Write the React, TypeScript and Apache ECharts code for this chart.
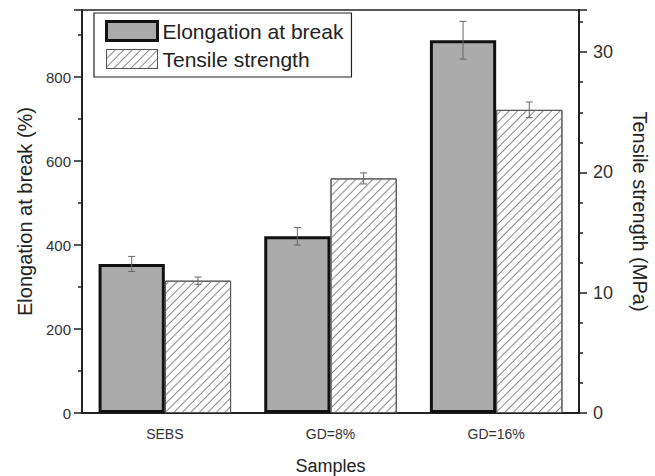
import React, { useEffect, useRef } from "react";
import * as echarts from "echarts";

const categories = ["SEBS", "GD=8%", "GD=16%"];
const elongation = [355, 421, 888];
const elongationErr = [18, 21, 45];
const tensile = [11.0, 19.5, 25.2];
const tensileErr = [0.3, 0.46, 0.65];
const leftTicks = [0, 200, 400, 600, 800];
const rightTicks = [0, 10, 20, 30];

const FONT = "'Liberation Sans', Arial, sans-serif";
const TXT = "#222";

function errorRenderer(offset: number) {
  return (params: any, api: any) => {
    const idx = api.value(0);
    const lo = api.value(1);
    const hi = api.value(2);
    const band = api.size([1, 0])[0];
    const pLo = api.coord([idx, lo]);
    const pHi = api.coord([idx, hi]);
    const x = pLo[0] + offset * band;
    const cap = 3.5;
    const style = { stroke: "#666", lineWidth: 1 };
    return {
      type: "group",
      children: [
        { type: "line", shape: { x1: x, y1: pLo[1], x2: x, y2: pHi[1] }, style },
        { type: "line", shape: { x1: x - cap, y1: pHi[1], x2: x + cap, y2: pHi[1] }, style },
        { type: "line", shape: { x1: x - cap, y1: pLo[1], x2: x + cap, y2: pLo[1] }, style },
      ],
    };
  };
}

export default function App() {
  const ref = useRef<HTMLDivElement>(null);
  useEffect(() => {
    document.body.style.margin = "0";
    const chart = echarts.init(ref.current!, null, { renderer: "svg" });
    const hatch = {
      symbol: "rect",
      symbolSize: 1,
      dashArrayX: [1, 0],
      dashArrayY: [1, 5],
      rotation: -Math.PI / 4,
      color: "#8a8a8a",
    };
    chart.setOption({
      animation: false,
      backgroundColor: "#fff",
      textStyle: { fontFamily: FONT, color: TXT },
      grid: {
        left: 82,
        right: 76,
        top: 10,
        bottom: 63,
        show: true,
        borderColor: "#222",
        borderWidth: 1.5,
        backgroundColor: "transparent",
        outerBoundsMode: "none",
        containLabel: false,
      },
      legend: {
        orient: "vertical",
        left: 94,
        top: 13,
        padding: [7, 8, 7, 11],
        itemWidth: 51,
        itemHeight: 19,
        itemGap: 6,
        icon: "rect",
        borderColor: "#222",
        borderWidth: 1.2,
        textStyle: { fontSize: 21, color: TXT, fontFamily: FONT, lineHeight: 22 },
        data: [
          { name: "Elongation at break", itemStyle: { borderWidth: 3, borderColor: "#111" } },
          { name: "Tensile strength", itemStyle: { borderWidth: 1, borderColor: "#555" } },
        ],
      },
      xAxis: [
        {
          type: "category",
          data: categories,
          name: "Samples",
          nameLocation: "middle",
          nameGap: 44,
          nameTextStyle: { fontSize: 18, color: TXT, fontFamily: FONT },
          axisLine: { lineStyle: { color: "#222", width: 2 } },
          axisTick: { alignWithLabel: true, length: 8, lineStyle: { color: "#222", width: 1.5 } },
          axisLabel: { fontSize: 14, color: "#333", margin: 14, fontFamily: FONT },
        },
        {
          type: "category",
          data: categories,
          position: "bottom",
          axisLine: { show: false },
          axisTick: { length: 4, lineStyle: { color: "#222", width: 1.5 } },
          axisLabel: { show: false },
        },
      ],
      yAxis: [
        {
          type: "value",
          min: leftTicks[0],
          max: 960,
          interval: leftTicks[1] - leftTicks[0],
          name: "Elongation at break (%)",
          nameLocation: "middle",
          nameGap: 46,
          nameRotate: 90,
          nameTextStyle: { fontSize: 20, color: TXT, fontFamily: FONT },
          axisLine: { show: true, lineStyle: { color: "#222", width: 2 } },
          axisTick: { show: true, length: 8, lineStyle: { color: "#222", width: 1.5 } },
          minorTick: { show: true, splitNumber: 2, length: 4, lineStyle: { color: "#222", width: 1.5 } },
          splitLine: { show: false },
          axisLabel: {
            fontSize: 15,
            color: "#333",
            margin: 11,
            fontFamily: FONT,
            formatter: (v: number) => (leftTicks.includes(v) ? String(v) : ""),
          },
        },
        {
          type: "value",
          min: rightTicks[0],
          max: 33.5,
          interval: rightTicks[1] - rightTicks[0],
          position: "right",
          name: "Tensile strength (MPa)",
          nameLocation: "middle",
          nameGap: 51,
          nameRotate: -90,
          nameTextStyle: { fontSize: 20, color: TXT, fontFamily: FONT },
          axisLine: { show: true, lineStyle: { color: "#222", width: 2 } },
          axisTick: { show: true, length: 8, lineStyle: { color: "#222", width: 1.5 } },
          minorTick: { show: true, splitNumber: 4, length: 4, lineStyle: { color: "#222", width: 1.5 } },
          splitLine: { show: false },
          axisLabel: {
            fontSize: 18,
            color: "#333",
            margin: 14,
            fontFamily: FONT,
            formatter: (v: number) => (rightTicks.includes(v) ? String(v) : ""),
          },
        },
      ],
      series: [
        {
          name: "Elongation at break",
          type: "bar",
          yAxisIndex: 0,
          data: elongation,
          barGap: "0%",
          barCategoryGap: "20%",
          itemStyle: { color: "#ababab", borderColor: "#111", borderWidth: 3 },
        },
        {
          name: "Tensile strength",
          type: "bar",
          yAxisIndex: 1,
          data: tensile,
          barGap: "0%",
          barCategoryGap: "20%",
          itemStyle: { color: "#fff", borderColor: "#555", borderWidth: 1, decal: hatch },
        },
        {
          type: "custom",
          yAxisIndex: 0,
          z: 10,
          renderItem: errorRenderer(-0.2),
          encode: { x: 0, y: [1, 2] },
          data: elongation.map((v, i) => [i, v - elongationErr[i], v + elongationErr[i]]),
        },
        {
          type: "custom",
          yAxisIndex: 1,
          z: 10,
          renderItem: errorRenderer(0.2),
          encode: { x: 0, y: [1, 2] },
          data: tensile.map((v, i) => [i, v - tensileErr[i], v + tensileErr[i]]),
        },
      ],
    });
    return () => chart.dispose();
  }, []);
  return (
    <div
      ref={ref}
      style={{ position: "absolute", left: 0, top: 0, width: 655, height: 476 }}
    />
  );
}
